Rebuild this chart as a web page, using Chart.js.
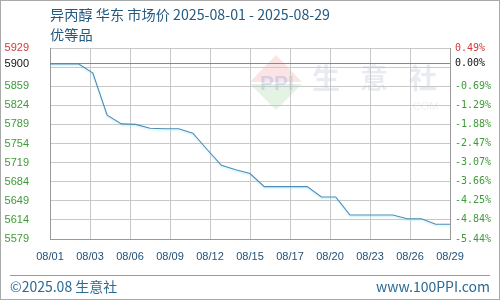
<!DOCTYPE html>
<html><head><meta charset="utf-8">
<script src="https://cdn.jsdelivr.net/npm/chart.js@4"></script>
<style>html,body{margin:0;padding:0;background:#fff;}#wrap{width:500px;height:300px;position:relative;}canvas{display:block;}</style>
</head><body><div id="wrap"><canvas id="c" width="500" height="300"></canvas></div>
<script>
const titleLines = ['异丙醇 华东 市场价 2025-08-01 - 2025-08-29', '优等品'];
const footerLeft = '©2025.08 生意社';
const footerRight = 'www.100PPI.com';
const dates = ['08/01','08/02','08/03','08/04','08/05','08/06','08/07','08/08','08/09','08/10','08/11','08/12','08/13','08/14','08/15','08/16','08/17','08/18','08/19','08/20','08/21','08/22','08/23','08/24','08/25','08/26','08/27','08/28','08/29'];
const prices = [5900,5900,5900,5883,5806,5790,5789,5782,5781,5781,5773,5743,5714,5706,5699,5675,5675,5675,5675,5656,5656,5623,5623,5623,5623,5616,5616,5606,5606];
const basePrice = 5900;
const yMin = 5579, yMax = 5929;
const xTickLabels = ['08/01','08/03','08/06','08/09','08/12','08/15','08/17','08/20','08/23','08/26','08/29'];
const yTickValues = [5579,5614,5649,5684,5719,5754,5789,5824,5859,5894,5900,5929];
const yTickLabels = ['5579','5614','5649','5684','5719','5754','5789','5824','5859','','5900','5929'];
const pctTickLabels = ['-5.44%','-4.84%','-4.25%','-3.66%','-3.07%','-2.47%','-1.88%','-1.29%','-0.69%','','0.00%','0.49%'];

const RED = '#d03a3a', GREEN = '#3f9a3a', BLACK = '#111';
function tickColor(v){ return v > basePrice ? RED : (v === basePrice ? BLACK : GREEN); }

const decor = {
  id: 'decor',
  beforeDraw(chart){
    const ctx = chart.ctx;
    ctx.save();
    ctx.fillStyle = '#fff';
    ctx.fillRect(0,0,500,300);
    // watermark
    ctx.globalAlpha = 0.14;
    ctx.beginPath(); ctx.moveTo(276,55); ctx.lineTo(302,82); ctx.lineTo(250,82); ctx.closePath();
    ctx.fillStyle = '#e04040'; ctx.fill();
    ctx.beginPath(); ctx.moveTo(250,84); ctx.lineTo(302,84); ctx.lineTo(276,110); ctx.closePath();
    ctx.fillStyle = '#40b040'; ctx.fill();
    ctx.globalAlpha = 0.22;
    ctx.fillStyle = '#5a7fd0';
    ctx.font = 'bold 21px "Liberation Sans"';
    ctx.textAlign = 'center'; ctx.textBaseline = 'middle';
    ctx.fillText('PPI', 277, 84);
    ctx.globalAlpha = 0.2;
    ctx.fillStyle = '#8a9ab8';
    ctx.font = 'bold 28px "Noto Sans CJK SC"';
    ctx.fillText('生', 326, 78); ctx.fillText('意', 374, 78); ctx.fillText('社', 423, 78);
    ctx.globalAlpha = 0.15;
    ctx.font = '11px "Liberation Sans"';
    ctx.fillText('.COM', 424, 107);
    ctx.globalAlpha = 1;
    // outer border
    ctx.strokeStyle = '#aaa'; ctx.lineWidth = 1;
    ctx.strokeRect(0.5,0.5,499,299);
    // title
    ctx.fillStyle = '#245a80';
    ctx.textAlign = 'left'; ctx.textBaseline = 'middle';
    ctx.font = '14.2px "Noto Sans CJK SC"';
    ctx.fillText(titleLines[0], 50, 15);
    ctx.fillText(titleLines[1], 50, 35);
    // footer
    ctx.strokeStyle = '#999';
    ctx.beginPath(); ctx.moveTo(10,275.5); ctx.lineTo(490,275.5); ctx.stroke();
    ctx.fillStyle = '#2b6a93';
    ctx.font = '14px "Noto Sans CJK SC"';
    ctx.fillText(footerLeft, 10, 287);
    ctx.textAlign = 'right';
    ctx.fillText(footerRight, 490, 287);
    ctx.restore();
  },
  beforeDatasetDraw(chart){
    const ctx = chart.ctx;
    ctx.save();
    ctx.shadowColor = 'rgba(140,225,255,0.45)';
    ctx.shadowOffsetY = 1.5;
    ctx.shadowBlur = 1.5;
  },
  afterDatasetDraw(chart){ chart.ctx.restore(); }
};

const yTicksBuilder = s => { s.ticks = yTickValues.map(v => ({value: v})); };

new Chart(document.getElementById('c'), {
  type: 'line',
  data: {
    datasets: [{
      data: prices.map((p, i) => ({x: i, y: p})),
      borderColor: '#4a8cb5',
      borderWidth: 1.1,
      pointRadius: 0,
      tension: 0,
      fill: false
    }]
  },
  options: {
    responsive: false,
    animation: false,
    devicePixelRatio: 1,
    layout: {padding: {top: 48, left: 0, right: 0, bottom: 0}},
    plugins: {legend: {display: false}, tooltip: {enabled: false}},
    scales: {
      x: {
        type: 'linear', min: 0, max: dates.length - 1,
        afterBuildTicks: s => { s.ticks = xTickLabels.map((l, i) => ({value: i * (dates.length - 1) / (xTickLabels.length - 1)})); },
        afterFit: s => { s.height = 61; },
        ticks: {autoSkip: false, maxRotation: 0, minRotation: 0, padding: 11, color: '#1f4f77',
          font: {family: 'Liberation Sans', size: 11}, callback: (v, i) => xTickLabels[i]},
        grid: {color: '#c8c8c8', dash: [2,2], drawTicks: false},
        border: {display: true, color: '#999'}
      },
      y: {
        position: 'left', min: yMin, max: yMax,
        afterBuildTicks: yTicksBuilder,
        afterFit: s => { s.width = 50; },
        ticks: {autoSkip: false, padding: 21, color: c => tickColor(c.tick.value),
          font: {family: 'Liberation Sans', size: 11}, callback: (v, i) => yTickLabels[i]},
        grid: {color: c => (c.tick && c.tick.value === basePrice) ? '#888' : '#c8c8c8',
               dash: c => (c.tick && c.tick.value === basePrice) ? [] : [2,2], drawTicks: false},
        border: {display: true, color: '#999'}
      },
      y2: {
        position: 'right', min: yMin, max: yMax,
        afterBuildTicks: yTicksBuilder,
        afterFit: s => { s.width = 50; },
        ticks: {autoSkip: false, padding: 5, color: c => tickColor(c.tick.value),
          font: {family: 'DejaVu Sans Mono', size: 10}, callback: (v, i) => pctTickLabels[i]},
        grid: {display: false, drawTicks: false},
        border: {display: true, color: '#999'}
      }
    }
  },
  plugins: [decor]
});
</script>
</body></html>
